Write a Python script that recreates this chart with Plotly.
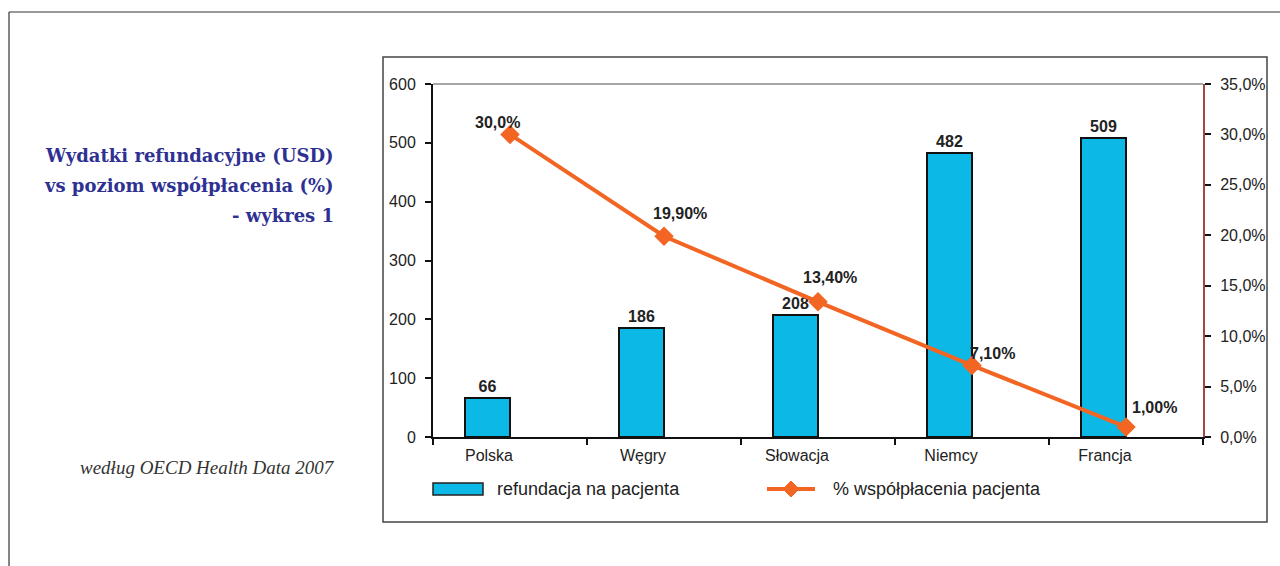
import plotly.graph_objects as go

# Data
countries = ["Polska", "Węgry", "Słowacja", "Niemcy", "Francja"]
refund_usd = [66, 186, 208, 482, 509]
copay_pct = [30.0, 19.9, 13.4, 7.1, 1.0]
copay_decimals = [1, 2, 2, 2, 2]

left_ticks = [0, 100, 200, 300, 400, 500, 600]
right_ticks = [0, 5, 10, 15, 20, 25, 30, 35]

BAR_COLOR = "#0cb9e6"
LINE_COLOR = "#f26522"
TITLE_COLOR = "#2e3192"
TEXT_COLOR = "#222222"

W, H = 1280, 566
L, R, T, B = 433, 1203, 84, 437  # plot area in pixels


def px_x(px):
    return (px - L) / (R - L)


def px_y(py):
    return (B - py) / (B - T)


def pct_label(v, d):
    return f"{v:.{d}f}%".replace(".", ",")


fig = go.Figure()

fig.add_trace(go.Bar(
    x=countries, y=refund_usd,
    width=0.29, offset=-0.29,
    marker=dict(color=BAR_COLOR, line=dict(color="#111111", width=2)),
    text=[str(v) for v in refund_usd], textposition="outside",
    textfont=dict(family="Arial, Liberation Sans", size=16, color=TEXT_COLOR, weight="bold"),
    cliponaxis=False, showlegend=False, yaxis="y",
))

fig.add_trace(go.Scatter(
    x=countries, y=copay_pct, mode="lines+markers",
    line=dict(color=LINE_COLOR, width=4),
    marker=dict(symbol="diamond", size=15, color=LINE_COLOR),
    cliponaxis=False, showlegend=False, yaxis="y2",
))

# value labels for the co-payment line
label_shift = [(-13, 12), (16, 23), (12, 24), (20, 12), (28, 19)]
for c, v, d, (dx, dy) in zip(countries, copay_pct, copay_decimals, label_shift):
    fig.add_annotation(
        x=c, y=v, xref="x", yref="y2", text=pct_label(v, d), showarrow=False,
        xshift=dx, yshift=dy,
        font=dict(family="Arial, Liberation Sans", size=16, color=TEXT_COLOR, weight="bold"),
    )

shapes = []
# outer page frame
shapes.append(dict(type="line", xref="paper", yref="paper",
                   x0=px_x(9), x1=px_x(9), y0=px_y(12), y1=px_y(580),
                   line=dict(color="#333333", width=1.2)))
shapes.append(dict(type="line", xref="paper", yref="paper",
                   x0=px_x(9), x1=px_x(1290), y0=px_y(12), y1=px_y(12),
                   line=dict(color="#333333", width=1.2)))
# chart box
shapes.append(dict(type="rect", xref="paper", yref="paper",
                   x0=px_x(383), x1=px_x(1267), y0=px_y(57), y1=px_y(522),
                   line=dict(color="#444444", width=1.5), layer="below"))
# top border of plot area
shapes.append(dict(type="line", xref="paper", yref="paper",
                   x0=0, x1=1, y0=1, y1=1, line=dict(color="#888888", width=1.5)))

# custom legend
shapes.append(dict(type="rect", xref="paper", yref="paper",
                   x0=px_x(433), x1=px_x(483), y0=px_y(483), y1=px_y(495),
                   fillcolor=BAR_COLOR, line=dict(color="#222222", width=1.5)))
shapes.append(dict(type="line", xref="paper", yref="paper",
                   x0=px_x(767), x1=px_x(815), y0=px_y(489), y1=px_y(489),
                   line=dict(color=LINE_COLOR, width=4)))
cx, cy = 791, 489
shapes.append(dict(type="path", xref="paper", yref="paper",
                   path=f"M {px_x(cx-8)} {px_y(cy)} L {px_x(cx)} {px_y(cy-8)} "
                        f"L {px_x(cx+8)} {px_y(cy)} L {px_x(cx)} {px_y(cy+8)} Z",
                   fillcolor=LINE_COLOR, line=dict(color=LINE_COLOR, width=1)))

legend_font = dict(family="Arial, Liberation Sans", size=18, color=TEXT_COLOR)
fig.add_annotation(xref="paper", yref="paper", x=px_x(495), y=px_y(489),
                   xanchor="left", yanchor="middle", showarrow=False,
                   text="refundacja na pacjenta", font=legend_font)
fig.add_annotation(xref="paper", yref="paper", x=px_x(831), y=px_y(489),
                   xanchor="left", yanchor="middle", showarrow=False,
                   text="% współpłacenia pacjenta", font=legend_font)

# side title and source note
title_lines = ["Wydatki refundacyjne (USD)", "vs poziom współpłacenia (%)", "- wykres 1"]
for line, py in zip(title_lines, [155, 185, 215]):
    fig.add_annotation(xref="paper", yref="paper", x=px_x(336), y=px_y(py),
                       xanchor="right", yanchor="middle", showarrow=False, text=line,
                       font=dict(family="DejaVu Serif, Liberation Serif", size=18,
                                 color=TITLE_COLOR, weight="bold"))
fig.add_annotation(xref="paper", yref="paper", x=px_x(337), y=px_y(467),
                   xanchor="right", yanchor="middle", showarrow=False,
                   text="<i>według OECD Health Data 2007</i>",
                   font=dict(family="Liberation Serif, DejaVu Serif", size=19, color="#333333"))

axis_font = dict(family="Arial, Liberation Sans", size=16, color=TEXT_COLOR)

fig.update_layout(
    width=W, height=H,
    margin=dict(l=L, r=W - R, t=T, b=H - B, pad=0),
    paper_bgcolor="white", plot_bgcolor="white",
    shapes=shapes,
    bargap=0,
    xaxis=dict(
        type="category", range=[-0.5, 4.5],
        showline=True, linecolor="#111111", linewidth=2,
        ticks="outside", tickson="boundaries", ticklen=6, tickwidth=2, tickcolor="#111111",
        showgrid=False, tickfont=axis_font, ticklabelshift=-21, ticklabelstandoff=3,
    ),
    yaxis=dict(
        range=[0, 600], tickvals=left_ticks, ticktext=[str(v) for v in left_ticks],
        showline=True, linecolor="#111111", linewidth=2,
        ticks="outside", ticklen=6, tickwidth=2, tickcolor="#111111",
        showgrid=False, zeroline=False, tickfont=axis_font, ticklabelstandoff=6,
    ),
    yaxis2=dict(
        overlaying="y", side="right", range=[0, 35],
        tickvals=right_ticks, ticktext=[pct_label(v, 1) for v in right_ticks],
        showline=True, linecolor="#a04848", linewidth=2,
        ticks="outside", ticklen=6, tickwidth=2, tickcolor="#111111",
        showgrid=False, zeroline=False, tickfont=axis_font, ticklabelstandoff=6,
    ),
)

fig.write_html("out.html")
